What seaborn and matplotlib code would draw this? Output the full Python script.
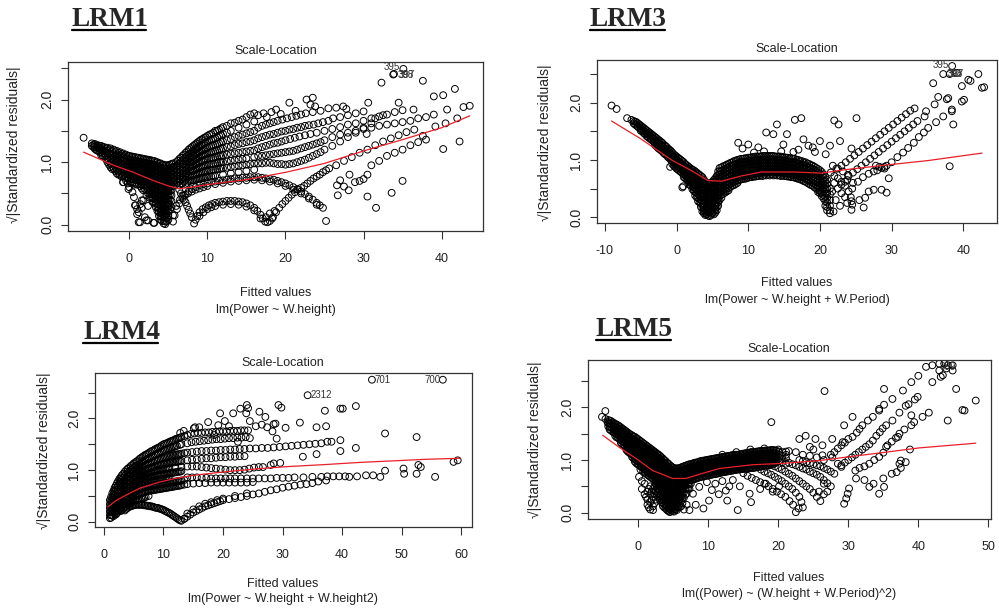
import matplotlib
matplotlib.use("Agg")
import matplotlib.pyplot as plt
import seaborn as sns
from matplotlib import font_manager
from matplotlib.lines import Line2D


# ---- data read off the four R "Scale-Location" diagnostic plots ----
# dense parts are kept as columns: (fitted value, [sqrt|std resid| values])
# the *_cols_b lists are the in-between columns of the same dense clouds

lrm1_cols = [
    (-4.8, [1.3, 1.26]),
    (-4.4, [1.29, 1.25, 1.21]),
    (-4.0, [1.27, 1.23, 1.18]),
    (-3.6, [1.26, 1.21, 1.16, 1.11]),
    (-3.2, [1.24, 1.19, 1.14, 1.09]),
    (-2.8, [1.23, 1.18, 1.12, 1.06, 1.0]),
    (-2.4, [1.22, 1.16, 1.1, 1.04, 0.98, 0.92]),
    (-2.0, [1.2, 1.14, 1.08, 1.02, 0.96, 0.9]),
    (-1.6, [1.18, 1.12, 1.06, 1.0, 0.94, 0.88, 0.82]),
    (-1.2, [1.16, 1.1, 1.04, 0.98, 0.92, 0.86, 0.8]),
    (-0.8, [1.14, 1.08, 1.02, 0.96, 0.9, 0.84, 0.78, 0.68]),
    (-0.4, [1.12, 1.06, 1.0, 0.94, 0.88, 0.82, 0.76, 0.7]),
    (0.0, [1.1, 1.04, 0.98, 0.92, 0.86, 0.8, 0.74, 0.6]),
    (0.4, [1.09, 1.03, 0.97, 0.91, 0.85, 0.79, 0.73, 0.67, 0.52]),
    (0.8, [1.08, 1.02, 0.96, 0.9, 0.84, 0.78, 0.72, 0.66, 0.31]),
    (1.2, [1.07, 1.01, 0.95, 0.89, 0.83, 0.77, 0.71, 0.65, 0.2, 0.04]),
    (1.6, [1.06, 1.0, 0.94, 0.88, 0.82, 0.76, 0.7, 0.64, 0.58, 0.39, 0.27]),
    (2.0, [1.05, 0.99, 0.93, 0.87, 0.81, 0.75, 0.69, 0.63, 0.57, 0.12]),
    (2.4, [1.04, 0.98, 0.92, 0.86, 0.8, 0.74, 0.68, 0.62, 0.56, 0.5, 0.3, 0.07]),
    (2.8, [1.03, 0.97, 0.91, 0.85, 0.79, 0.73, 0.67, 0.61, 0.55, 0.49, 0.43]),
    (3.2, [1.02, 0.96, 0.9, 0.84, 0.78, 0.72, 0.66, 0.6, 0.54, 0.48, 0.42, 0.36, 0.03]),
    (3.6, [1.0, 0.94, 0.88, 0.82, 0.76, 0.7, 0.64, 0.58, 0.52, 0.46, 0.4, 0.34, 0.28, 0.22]),
    (4.0, [0.98, 0.92, 0.86, 0.8, 0.74, 0.68, 0.62, 0.56, 0.5, 0.44, 0.38, 0.32, 0.26, 0.2, 0.14, 0.08]),
    (4.4, [0.96, 0.9, 0.84, 0.78, 0.72, 0.66, 0.6, 0.54, 0.48, 0.42, 0.36, 0.3, 0.24, 0.18, 0.12, 0.06, 0.02]),
    (4.8, [0.95, 0.89, 0.83, 0.77, 0.71, 0.65, 0.59, 0.53, 0.47, 0.41, 0.35, 0.29, 0.23, 0.17, 0.11, 0.05]),
    (5.2, [0.96, 0.9, 0.84, 0.78, 0.72, 0.66, 0.6, 0.54, 0.48, 0.4, 0.32, 0.24]),
    (5.6, [0.98, 0.92, 0.86, 0.8, 0.74, 0.68, 0.62, 0.15, 0.05]),
    (6.0, [1.0, 0.93, 0.86, 0.79, 0.72, 0.65]),
    (6.4, [1.05, 0.98, 0.91, 0.84, 0.77, 0.7, 0.63]),
    (6.8, [1.1, 1.03, 0.96, 0.89, 0.82, 0.75, 0.66]),
    (7.2, [1.15, 1.08, 1.01, 0.94, 0.87, 0.8, 0.72, 0.65]),
    (7.6, [1.2, 1.13, 1.06, 0.99, 0.92, 0.85, 0.78, 0.7]),
    (8.0, [1.24, 1.16, 1.08, 1.0, 0.93, 0.86, 0.78, 0.71]),
    (8.4, [1.28, 1.2, 1.12, 1.04, 0.96, 0.88, 0.8, 0.72]),
    (8.8, [1.32, 1.24, 1.15, 1.07, 0.99, 0.9, 0.82, 0.73]),
    (9.2, [1.36, 1.27, 1.18, 1.1, 1.02, 0.93, 0.84, 0.74]),
    (9.6, [1.39, 1.3, 1.2, 1.12, 1.03, 0.94, 0.85, 0.75]),
    (10.0, [1.42, 1.33, 1.23, 1.14, 1.05, 0.96, 0.86, 0.76]),
    (10.5, [1.45, 1.36, 1.26, 1.16, 1.07, 0.97, 0.87, 0.77]),
    (11.0, [1.5, 1.38, 1.28, 1.18, 1.08, 0.98, 0.88, 0.78]),
    (11.5, [1.52, 1.42, 1.3, 1.2, 1.1, 1.0, 0.89]),
    (12.0, [1.56, 1.45, 1.33, 1.22, 1.11, 1.0, 0.9, 0.8]),
    (12.5, [1.58, 1.47, 1.35, 1.24, 1.12, 1.01, 0.91]),
    (13.0, [1.62, 1.5, 1.37, 1.25, 1.13, 1.02, 0.92, 0.82]),
    (13.5, [1.63, 1.4, 1.27, 1.14, 1.03, 0.93]),
    (14.0, [1.66, 1.55, 1.42, 1.29, 1.15, 1.04, 0.94, 0.84]),
    (14.5, [1.68, 1.44, 1.3, 1.16, 1.05, 0.95]),
    (15.0, [1.72, 1.6, 1.46, 1.32, 1.17, 1.06, 0.96, 0.86]),
    (15.5, [1.76, 1.48, 1.33, 1.18, 0.97]),
    (16.0, [1.78, 1.65, 1.5, 1.35, 1.19, 1.08, 0.98, 0.88]),
]

lrm1_cols_b = [
    (-4.6, [1.28, 1.24]),
    (-4.2, [1.27, 1.23, 1.19]),
    (-3.8, [1.26, 1.21, 1.16]),
    (-3.4, [1.24, 1.19, 1.14, 1.1]),
    (-3.0, [1.22, 1.16, 1.11, 1.05]),
    (-2.6, [1.2, 1.14, 1.08, 1.02, 0.96]),
    (-2.2, [1.18, 1.12, 1.06, 1.0, 0.94, 0.89]),
    (-1.8, [1.17, 1.11, 1.05, 0.99, 0.93, 0.86]),
    (-1.4, [1.15, 1.09, 1.03, 0.97, 0.91, 0.85, 0.8]),
    (-1.0, [1.13, 1.07, 1.01, 0.95, 0.89, 0.83, 0.77]),
    (-0.6, [1.11, 1.05, 0.99, 0.93, 0.87, 0.81, 0.75]),
    (-0.2, [1.1, 1.04, 0.98, 0.92, 0.86, 0.8, 0.74, 0.66]),
    (0.2, [1.09, 1.03, 0.97, 0.91, 0.85, 0.79, 0.73, 0.68]),
    (0.6, [1.08, 1.02, 0.96, 0.9, 0.84, 0.78, 0.72, 0.64, 0.44]),
    (1.0, [1.07, 1.01, 0.95, 0.89, 0.83, 0.77, 0.71, 0.64, 0.25]),
    (1.4, [1.06, 1.0, 0.94, 0.88, 0.82, 0.76, 0.7, 0.62, 0.33]),
    (1.8, [1.05, 0.99, 0.93, 0.87, 0.81, 0.75, 0.69, 0.63, 0.55]),
    (2.2, [1.04, 0.98, 0.92, 0.86, 0.8, 0.74, 0.68, 0.62, 0.55, 0.47]),
    (2.6, [1.03, 0.97, 0.91, 0.85, 0.79, 0.73, 0.67, 0.61, 0.55, 0.49, 0.43]),
    (3.0, [1.02, 0.96, 0.9, 0.84, 0.78, 0.72, 0.66, 0.6, 0.54, 0.48, 0.42, 0.36]),
    (3.4, [1.0, 0.94, 0.88, 0.82, 0.76, 0.7, 0.64, 0.58, 0.52, 0.46, 0.4, 0.34, 0.28]),
    (3.8, [0.98, 0.92, 0.86, 0.8, 0.74, 0.68, 0.62, 0.56, 0.5, 0.44, 0.38, 0.32, 0.26, 0.2, 0.14]),
    (4.2, [0.96, 0.9, 0.84, 0.78, 0.72, 0.66, 0.6, 0.54, 0.48, 0.42, 0.36, 0.3, 0.24, 0.18, 0.12, 0.06]),
    (4.6, [0.95, 0.89, 0.83, 0.77, 0.71, 0.65, 0.59, 0.53, 0.47, 0.41, 0.35, 0.29, 0.23, 0.17, 0.11, 0.05, 0.01]),
    (5.0, [0.95, 0.89, 0.83, 0.77, 0.71, 0.65, 0.59, 0.53, 0.47, 0.41, 0.35, 0.29, 0.22, 0.15, 0.08]),
    (5.4, [0.97, 0.91, 0.85, 0.79, 0.73, 0.67, 0.61, 0.55, 0.47, 0.38, 0.28]),
    (6.2, [1.02, 0.95, 0.88, 0.81, 0.74, 0.67]),
    (6.6, [1.07, 1.0, 0.93, 0.86, 0.79, 0.72, 0.65]),
    (7.0, [1.12, 1.05, 0.98, 0.91, 0.84, 0.77, 0.69]),
    (7.4, [1.17, 1.1, 1.03, 0.96, 0.89, 0.82, 0.75, 0.67]),
    (7.8, [1.22, 1.14, 1.07, 1.0, 0.93, 0.86, 0.78, 0.7]),
    (8.2, [1.26, 1.18, 1.1, 1.02, 0.94, 0.87, 0.79, 0.71]),
    (8.6, [1.3, 1.22, 1.13, 1.05, 0.97, 0.89, 0.81, 0.72]),
    (9.0, [1.34, 1.25, 1.16, 1.08, 1.0, 0.91, 0.83, 0.74]),
    (9.4, [1.37, 1.28, 1.19, 1.11, 1.02, 0.93, 0.84, 0.75]),
    (9.8, [1.4, 1.31, 1.22, 1.13, 1.04, 0.95, 0.86, 0.76]),
    (10.25, [1.44, 1.34, 1.25, 1.15, 1.06, 0.96, 0.87, 0.77]),
    (10.75, [1.47, 1.37, 1.27, 1.17, 1.07, 0.97, 0.88, 0.78]),
    (11.25, [1.5, 1.4, 1.29, 1.19, 1.09, 0.99, 0.89]),
    (11.75, [1.54, 1.43, 1.32, 1.21, 1.1, 1.0, 0.9]),
]

lrm1_points = [
    (-5.85, 1.39), (-0.77, 0.68), (-0.1, 0.57), (0.73, 0.31), (1.37, 0.04),
    (2.2, 0.07), (3.1, 0.03), (1.8, 0.39), (1.0, 0.17),
    (6.4, 0.56), (6.8, 0.46), (7.2, 0.36), (7.6, 0.24), (8.0, 0.12), (8.3, 0.02),
    (6.6, 0.5), (7.0, 0.4), (7.4, 0.3), (7.8, 0.18),
    (5.8, 0.15), (6.1, 0.25), (6.4, 0.34), (6.8, 0.42), (7.2, 0.48), (7.6, 0.53),
    (8.0, 0.57), (8.5, 0.6), (9.0, 0.63), (9.5, 0.65), (10, 0.66), (10.5, 0.68),
    (11, 0.69), (11.5, 0.7), (12, 0.71), (12.5, 0.72), (13, 0.73), (13.5, 0.74),
    (14, 0.74), (14.5, 0.75), (15, 0.75), (15.5, 0.76), (16, 0.76), (16.5, 0.76),
    (17, 0.75), (17.5, 0.74), (18, 0.73), (18.5, 0.72), (19, 0.7), (19.5, 0.68),
    (20, 0.66), (20.5, 0.63), (21, 0.6), (21.5, 0.57), (22, 0.53), (22.5, 0.49),
    (23, 0.45), (23.5, 0.4), (24, 0.35), (24.4, 0.31), (24.8, 0.27), (25.2, 0.06),
    (6.0, 0.3), (6.5, 0.4), (7.0, 0.47), (7.5, 0.5), (8.0, 0.53), (8.5, 0.56),
    (9.0, 0.58), (9.5, 0.6), (10, 0.62), (11, 0.65), (12, 0.67), (13, 0.69),
    (14, 0.7), (15, 0.71), (16, 0.72), (17, 0.71), (18, 0.69), (19, 0.66),
    (20, 0.62), (21, 0.56), (22, 0.5), (23, 0.42), (24, 0.32),
    (8.5, 0.08), (8.7, 0.14), (9.0, 0.2), (9.4, 0.25), (9.8, 0.28), (10.2, 0.31),
    (10.6, 0.33), (11, 0.35), (11.5, 0.36), (12, 0.37), (12.5, 0.38), (13, 0.38),
    (13.5, 0.38), (14, 0.37), (14.5, 0.36), (15, 0.34), (15.5, 0.31), (16, 0.27),
    (16.4, 0.22), (16.8, 0.16), (17.1, 0.1), (17.4, 0.05), (17.7, 0.04), (18, 0.06),
    (9.0, 0.14), (9.5, 0.2), (10, 0.25), (10.5, 0.28), (11, 0.3), (12, 0.32),
    (13, 0.33), (14, 0.32), (15, 0.29), (16, 0.23), (16.8, 0.1), (17.5, 0.12),
    (18.0, 0.18), (18.3, 0.1), (18.6, 0.22),
    (18.4, 0.12), (18.8, 0.2), (19.2, 0.27), (19.6, 0.33), (20, 0.38), (20.4, 0.43),
    (20.8, 0.48), (21.2, 0.52), (21.6, 0.56), (22, 0.59), (22.4, 0.62), (22.8, 0.66),
    (23.2, 0.7), (23.6, 0.74), (24, 0.77), (24.4, 0.8), (24.8, 0.84), (25.2, 0.87),
    (25.6, 0.9),
    (16.5, 1.75), (17.2, 1.78), (17.6, 1.72), (18.2, 1.8), (18.8, 1.84), (19.4, 1.77),
    (20.5, 1.95), (21.3, 1.82), (22.7, 2.0), (23.2, 1.92), (23.5, 2.03), (23.8, 1.89),
    (16.5, 1.55), (17, 1.58), (17.5, 1.6), (18, 1.62), (18.5, 1.64), (19, 1.66),
    (19.6, 1.68), (20.2, 1.7), (20.8, 1.72), (21.4, 1.74), (22, 1.76), (22.6, 1.78),
    (23.5, 1.8), (24.5, 1.82), (25.5, 1.86), (26.5, 1.87), (27.4, 1.89), (27.8, 1.85),
    (16.5, 1.38), (17, 1.4), (17.5, 1.42), (18, 1.44), (18.5, 1.45), (19, 1.47),
    (19.5, 1.49), (20, 1.5), (20.5, 1.52), (21, 1.53), (21.5, 1.55), (22, 1.56),
    (22.5, 1.58), (23, 1.59), (23.6, 1.6), (24.2, 1.62), (24.8, 1.64), (25.5, 1.66),
    (26.1, 1.7), (27, 1.72), (28, 1.75), (29, 1.78), (30, 1.81), (30.6, 1.95),
    (16.5, 1.22), (17, 1.24), (17.5, 1.26), (18, 1.28), (18.5, 1.3), (19, 1.31),
    (19.5, 1.33), (20, 1.35), (20.6, 1.37), (21.2, 1.39), (21.8, 1.41), (22.5, 1.43),
    (23.2, 1.45), (24, 1.47), (25, 1.5), (26, 1.53), (27, 1.56), (28, 1.6),
    (29, 1.62), (30, 1.66), (31, 1.7), (32, 1.73), (33, 1.76), (34, 1.8),
    (35, 1.83), (36.4, 1.84),
    (16.5, 1.1), (17, 1.1), (17.5, 1.11), (18, 1.12), (18.5, 1.13), (19, 1.14),
    (19.5, 1.15), (20, 1.16), (20.5, 1.17), (21, 1.18), (21.5, 1.2), (22, 1.22),
    (22.5, 1.24), (23, 1.26), (23.5, 1.28), (24, 1.3), (24.5, 1.32), (25, 1.35),
    (26, 1.4), (27, 1.44), (28, 1.47), (29, 1.5), (30, 1.53), (31, 1.55),
    (32, 1.58), (33, 1.6), (34, 1.62), (35, 1.64), (36, 1.66), (37, 1.7),
    (38, 1.72), (39, 1.76), (40.7, 1.84),
    (16.5, 0.98), (17, 0.98), (17.5, 0.99), (18, 0.99), (18.5, 0.98), (19, 0.97),
    (19.5, 0.97), (20, 0.96), (20.5, 0.97), (21, 0.98), (21.5, 1.0), (22, 1.02),
    (22.5, 1.04), (23, 1.07), (23.5, 1.1), (24, 1.13), (24.5, 1.16), (25, 1.2),
    (26, 1.26), (27, 1.33), (28, 1.4), (29, 1.47), (30, 1.55), (31, 1.62),
    (31.5, 1.7), (32.5, 1.75),
    (26.5, 0.95), (27.5, 1.02), (28.5, 1.08), (29.5, 1.15), (30.5, 1.2), (31.5, 1.27),
    (32.5, 1.33), (33.5, 1.38), (34.5, 1.43), (35.5, 1.48), (36.5, 1.52),
    (37.6, 1.42), (39.2, 1.57), (40.5, 1.62), (42, 1.7), (43.6, 1.9), (42.8, 1.88),
    (26.6, 0.63), (26.7, 0.47), (27.5, 0.61), (28.1, 0.55), (28.9, 0.68), (28.2, 0.8),
    (27, 0.71), (29.5, 0.7), (30, 0.73), (30.5, 0.8), (30.5, 0.45), (31.6, 0.27),
    (33.6, 0.51), (35, 0.7), (31, 0.95), (32, 1.02), (33, 1.1), (34, 1.15),
    (35, 1.2), (36, 1.27), (37, 1.32), (38, 1.36), (30.4, 1.45),
    (32.3, 2.27), (37.6, 2.3), (33.8, 2.4), (33.9, 2.41), (35.1, 2.49), (39, 2.05),
    (40.2, 2.07), (41.7, 2.17), (40.2, 1.21), (42.3, 1.33), (34.5, 1.95),
]

lrm1_smooth_x = [-5.85, -2.0, 0.47, 3.0, 5.0, 6.4, 8.0, 10.0, 12.4, 15.0, 20.1, 25.0, 30.3, 35.0, 40.0, 43.6]
lrm1_smooth_y = [1.16, 0.95, 0.84, 0.71, 0.62, 0.575, 0.6, 0.64, 0.68, 0.72, 0.84, 0.98, 1.19, 1.36, 1.55, 1.74]

lrm3_cols = [
    (-6.0, [1.68, 1.64]),
    (-5.6, [1.66, 1.6]),
    (-5.2, [1.62, 1.56]),
    (-4.8, [1.58, 1.53, 1.5]),
    (-4.4, [1.54, 1.49, 1.45]),
    (-4.0, [1.5, 1.45, 1.4]),
    (-3.6, [1.46, 1.41, 1.36]),
    (-3.2, [1.42, 1.37, 1.32]),
    (-2.8, [1.38, 1.33, 1.28, 1.24]),
    (-2.4, [1.34, 1.29, 1.24, 1.19]),
    (-2.0, [1.3, 1.25, 1.2, 1.15]),
    (-1.6, [1.25, 1.2, 1.15, 1.1]),
    (-1.2, [1.2, 1.15, 1.1, 1.05]),
    (-0.8, [1.16, 1.1, 1.05, 1.0]),
    (-0.4, [1.1, 1.05, 1.0, 0.95, 0.9]),
    (0.0, [1.06, 1.0, 0.95, 0.9, 0.85]),
    (0.4, [1.02, 0.96, 0.91, 0.86, 0.81]),
    (0.8, [0.98, 0.92, 0.87, 0.82, 0.77, 0.52]),
    (1.2, [0.93, 0.88, 0.83, 0.78, 0.73, 0.68]),
    (1.6, [0.89, 0.84, 0.79, 0.74, 0.69, 0.64]),
    (2.0, [0.85, 0.8, 0.75, 0.7, 0.65, 0.6, 0.55]),
    (2.4, [0.82, 0.76, 0.7, 0.64, 0.58, 0.52, 0.46]),
    (2.8, [0.78, 0.72, 0.66, 0.6, 0.54, 0.48, 0.42, 0.35]),
    (3.2, [0.74, 0.68, 0.62, 0.56, 0.5, 0.44, 0.38, 0.32, 0.26]),
    (3.6, [0.7, 0.64, 0.58, 0.52, 0.46, 0.4, 0.34, 0.28, 0.22, 0.16, 0.1]),
    (4.0, [0.62, 0.56, 0.5, 0.44, 0.38, 0.32, 0.26, 0.2, 0.14, 0.08, 0.04]),
    (4.4, [0.58, 0.5, 0.44, 0.38, 0.32, 0.26, 0.2, 0.14, 0.08, 0.03]),
    (4.8, [0.6, 0.52, 0.46, 0.4, 0.34, 0.28, 0.22, 0.16, 0.1, 0.04]),
    (5.2, [0.65, 0.58, 0.52, 0.46, 0.4, 0.34, 0.28, 0.22, 0.16, 0.1, 0.05]),
    (5.6, [0.72, 0.66, 0.6, 0.54, 0.48, 0.42, 0.36, 0.3, 0.24, 0.18, 0.12]),
    (6.0, [0.86, 0.8, 0.74, 0.68, 0.62, 0.56, 0.5, 0.44, 0.38, 0.3]),
    (6.5, [0.89, 0.83, 0.77, 0.71, 0.65, 0.59, 0.53, 0.47, 0.41]),
    (7.0, [0.92, 0.86, 0.8, 0.74, 0.68, 0.62, 0.56, 0.5, 0.45]),
    (7.5, [0.95, 0.89, 0.83, 0.77, 0.71, 0.65, 0.59, 0.53]),
    (8.0, [0.98, 0.92, 0.86, 0.8, 0.74, 0.68, 0.62, 0.56]),
    (8.5, [1.0, 0.94, 0.88, 0.82, 0.76, 0.7, 0.64, 0.6]),
    (9.0, [1.02, 0.96, 0.9, 0.84, 0.78, 0.72, 0.66]),
    (9.5, [1.03, 0.97, 0.91, 0.85, 0.79, 0.73, 0.67]),
    (10.0, [1.04, 0.98, 0.92, 0.86, 0.8, 0.74, 0.69]),
    (10.5, [1.05, 0.99, 0.93, 0.87, 0.81, 0.75, 0.7]),
    (11.0, [1.06, 1.0, 0.94, 0.88, 0.82, 0.76, 0.71]),
    (11.5, [1.06, 1.0, 0.94, 0.88, 0.82, 0.77, 0.72]),
    (12.0, [1.07, 1.01, 0.95, 0.89, 0.83, 0.78, 0.72]),
    (12.5, [1.07, 1.01, 0.95, 0.89, 0.83, 0.78, 0.73]),
    (13.0, [1.07, 1.01, 0.95, 0.89, 0.84, 0.79, 0.73]),
    (13.5, [1.07, 1.01, 0.95, 0.89, 0.84, 0.79, 0.73]),
    (14.0, [1.06, 1.0, 0.94, 0.88, 0.83, 0.78, 0.73]),
    (14.5, [1.06, 1.0, 0.94, 0.88, 0.83, 0.78, 0.72]),
    (15.0, [1.05, 0.99, 0.93, 0.87, 0.82, 0.77, 0.72]),
    (15.5, [1.04, 0.98, 0.92, 0.86, 0.81, 0.76, 0.71]),
    (16.0, [1.03, 0.97, 0.91, 0.85, 0.8, 0.75, 0.7]),
    (16.5, [1.02, 0.96, 0.9, 0.84, 0.79, 0.74, 0.69]),
    (17.0, [1.0, 0.94, 0.88, 0.82, 0.77, 0.72, 0.67]),
    (17.5, [0.98, 0.92, 0.86, 0.8, 0.75, 0.7, 0.65]),
    (18.0, [0.96, 0.9, 0.84, 0.78, 0.73, 0.68, 0.62]),
    (18.5, [0.93, 0.87, 0.81, 0.75, 0.7, 0.64, 0.58]),
    (19.0, [0.9, 0.84, 0.78, 0.72, 0.66, 0.6, 0.55]),
    (19.5, [0.86, 0.8, 0.74, 0.68, 0.62, 0.56, 0.5]),
    (20.0, [0.82, 0.76, 0.7, 0.64, 0.58, 0.52, 0.46, 0.42]),
    (20.5, [0.75, 0.69, 0.63, 0.57, 0.51, 0.45, 0.39, 0.33]),
    (21.0, [0.65, 0.58, 0.5, 0.42, 0.34, 0.26, 0.18, 0.12]),
    (21.4, [0.5, 0.4, 0.3, 0.2, 0.12, 0.07]),
]

lrm3_cols_b = [
    (-5.8, [1.67, 1.62]),
    (-5.4, [1.64, 1.58]),
    (-5.0, [1.6, 1.55, 1.51]),
    (-4.6, [1.56, 1.51, 1.47]),
    (-4.2, [1.52, 1.47, 1.42]),
    (-3.8, [1.48, 1.43, 1.38]),
    (-3.4, [1.44, 1.39, 1.34]),
    (-3.0, [1.4, 1.35, 1.3, 1.26]),
    (-2.6, [1.36, 1.31, 1.26, 1.21]),
    (-2.2, [1.32, 1.27, 1.22, 1.17]),
    (-1.8, [1.27, 1.22, 1.17, 1.12]),
    (-1.4, [1.23, 1.18, 1.13, 1.08]),
    (-1.0, [1.18, 1.13, 1.08, 1.03]),
    (-0.6, [1.13, 1.08, 1.03, 0.98, 0.93]),
    (-0.2, [1.08, 1.03, 0.98, 0.93, 0.88]),
    (0.2, [1.04, 0.98, 0.93, 0.88, 0.83]),
    (0.6, [1.0, 0.94, 0.89, 0.84, 0.79]),
    (1.0, [0.96, 0.9, 0.85, 0.8, 0.75, 0.7]),
    (1.4, [0.91, 0.86, 0.81, 0.76, 0.71, 0.66]),
    (1.8, [0.87, 0.82, 0.77, 0.72, 0.67, 0.62, 0.57]),
    (2.2, [0.83, 0.78, 0.73, 0.67, 0.61, 0.55, 0.49]),
    (2.6, [0.8, 0.74, 0.68, 0.62, 0.56, 0.5, 0.44, 0.38]),
    (3.0, [0.76, 0.7, 0.64, 0.58, 0.52, 0.46, 0.4, 0.34, 0.28]),
    (3.4, [0.72, 0.66, 0.6, 0.54, 0.48, 0.42, 0.36, 0.3, 0.24, 0.18]),
    (3.8, [0.66, 0.6, 0.54, 0.48, 0.42, 0.36, 0.3, 0.24, 0.18, 0.12, 0.07]),
    (4.2, [0.6, 0.53, 0.47, 0.41, 0.35, 0.29, 0.23, 0.17, 0.11, 0.05]),
    (4.6, [0.58, 0.5, 0.44, 0.38, 0.32, 0.26, 0.2, 0.14, 0.08, 0.02]),
    (5.0, [0.62, 0.55, 0.49, 0.43, 0.37, 0.31, 0.25, 0.19, 0.13, 0.07]),
    (5.4, [0.68, 0.62, 0.56, 0.5, 0.44, 0.38, 0.32, 0.26, 0.2, 0.14, 0.08]),
    (5.8, [0.8, 0.74, 0.68, 0.62, 0.56, 0.5, 0.44, 0.38, 0.32, 0.26, 0.2]),
    (6.25, [0.87, 0.81, 0.75, 0.69, 0.63, 0.57, 0.51, 0.45, 0.39, 0.34]),
    (6.75, [0.9, 0.84, 0.78, 0.72, 0.66, 0.6, 0.54, 0.48, 0.43]),
    (7.25, [0.93, 0.87, 0.81, 0.75, 0.69, 0.63, 0.57, 0.51, 0.47]),
    (7.75, [0.96, 0.9, 0.84, 0.78, 0.72, 0.66, 0.6, 0.55]),
    (8.25, [0.99, 0.93, 0.87, 0.81, 0.75, 0.69, 0.63, 0.58]),
    (8.75, [1.01, 0.95, 0.89, 0.83, 0.77, 0.71, 0.65]),
    (9.25, [1.02, 0.96, 0.9, 0.84, 0.78, 0.72, 0.67]),
    (9.75, [1.03, 0.97, 0.91, 0.85, 0.79, 0.73, 0.68]),
    (10.25, [1.04, 0.98, 0.92, 0.86, 0.8, 0.74, 0.7]),
    (10.75, [1.05, 0.99, 0.93, 0.87, 0.81, 0.76, 0.71]),
    (11.25, [1.06, 1.0, 0.94, 0.88, 0.82, 0.77, 0.72]),
    (11.75, [1.06, 1.0, 0.94, 0.88, 0.83, 0.78, 0.73]),
    (12.25, [1.07, 1.01, 0.95, 0.89, 0.84, 0.79, 0.74]),
    (12.75, [1.07, 1.01, 0.95, 0.89, 0.84, 0.79, 0.74]),
    (13.25, [1.07, 1.01, 0.95, 0.9, 0.85, 0.8, 0.75]),
    (13.75, [1.06, 1.0, 0.94, 0.89, 0.84, 0.79, 0.74]),
    (14.25, [1.06, 1.0, 0.94, 0.89, 0.84, 0.79, 0.74]),
    (14.75, [1.05, 0.99, 0.93, 0.88, 0.83, 0.78, 0.73]),
    (15.25, [1.04, 0.98, 0.92, 0.87, 0.82, 0.77, 0.72]),
    (15.75, [1.03, 0.97, 0.91, 0.86, 0.81, 0.76, 0.71]),
    (16.25, [1.02, 0.96, 0.9, 0.85, 0.8, 0.75, 0.7]),
    (16.75, [1.0, 0.94, 0.88, 0.83, 0.78, 0.73, 0.68]),
    (17.25, [0.98, 0.92, 0.86, 0.81, 0.76, 0.71, 0.66]),
    (17.75, [0.96, 0.9, 0.84, 0.79, 0.74, 0.69, 0.63]),
    (18.25, [0.94, 0.88, 0.82, 0.77, 0.72, 0.66, 0.6]),
    (18.75, [0.91, 0.85, 0.79, 0.74, 0.68, 0.62, 0.56]),
    (19.25, [0.88, 0.82, 0.76, 0.7, 0.64, 0.58, 0.52]),
    (19.75, [0.84, 0.78, 0.72, 0.66, 0.6, 0.54, 0.48, 0.44]),
    (20.25, [0.79, 0.73, 0.67, 0.61, 0.55, 0.49, 0.43, 0.37]),
    (20.75, [0.7, 0.63, 0.56, 0.49, 0.42, 0.35, 0.28, 0.2]),
]

lrm3_points = [
    (-9.07, 1.95), (-8.37, 1.89), (-6.9, 1.73), (-6.3, 1.7), (0.92, 0.54), (-0.9, 0.88),
    (21.5, 0.78), (22, 0.72), (22.5, 0.68), (23, 0.62), (23.5, 0.55), (24, 0.45),
    (24.3, 0.35), (24.5, 0.22), (24.4, 0.13), (22, 0.6), (22.5, 0.5), (23, 0.42),
    (23.5, 0.35), (23.8, 0.25), (22.3, 0.85), (21.8, 0.9), (23.2, 0.8), (21.7, 0.45),
    (22.2, 0.3), (22.8, 0.2), (21.9, 0.1), (23.8, 0.65), (24.6, 0.6),
    (8.6, 1.3), (10, 1.27), (14, 1.62), (16.5, 1.7), (17.4, 1.73), (14.9, 1.27),
    (17.7, 1.36), (20.0, 1.33), (22, 1.69), (22.6, 1.62), (25.1, 1.73), (22.8, 1.33),
    (24.4, 1.2), (19.3, 1.14), (12.5, 1.48), (13.5, 1.45), (15.4, 1.45), (9.2, 1.2),
    (11.4, 1.22), (18.4, 1.25), (16.3, 1.14), (20.8, 1.1), (21.4, 1.25), (14.6, 1.15),
    (10.8, 1.13), (19.0, 1.22), (17.0, 1.18), (12.2, 1.15),
    (22.5, 0.85), (23, 0.9), (23.6, 0.96), (24.2, 1.02), (24.8, 1.08), (25.4, 1.14),
    (26, 1.2), (26.6, 1.26), (27.2, 1.32), (27.8, 1.38), (28.4, 1.44), (29, 1.5),
    (29.6, 1.56), (30.2, 1.62), (30.8, 1.68), (31.4, 1.74), (32, 1.8), (32.6, 1.86),
    (33.2, 1.9),
    (23.5, 0.62), (24, 0.72), (24.6, 0.78), (25.2, 0.84), (25.8, 0.9), (26.4, 0.96),
    (27, 1.02), (27.6, 1.08), (28.2, 1.14), (28.8, 1.2), (29.4, 1.26), (30, 1.32),
    (30.6, 1.38), (31.2, 1.44), (31.8, 1.5), (32.4, 1.56), (33, 1.62), (33.6, 1.68),
    (34.6, 1.76), (36, 1.97), (37.9, 2.08),
    (24.5, 0.5), (25.3, 0.62), (26, 0.7), (26.8, 0.76), (27.5, 0.8), (28, 0.82),
    (28.6, 0.86), (29, 0.88), (29.3, 0.9), (30, 0.96), (30.8, 1.05), (31.6, 1.13),
    (32.3, 1.21), (33.1, 1.3), (33.8, 1.4), (34.5, 1.48), (35.1, 1.56), (36.2, 1.66),
    (37.2, 1.76), (38.4, 1.85), (39.8, 2.02), (27.8, 0.9), (28.3, 0.88), (29.0, 0.85),
    (35.8, 2.34), (36.5, 2.1), (39.8, 2.29), (40.7, 2.4), (42.1, 2.5), (42.6, 2.26),
    (42.9, 2.27), (39.1, 2.52), (37.2, 2.5), (38.1, 2.5), (38.44, 2.64), (38.4, 1.88),
    (37.7, 2.06), (38.6, 1.62), (38.1, 0.89), (40.1, 2.05), (41.0, 2.38), (34.8, 1.85),
    (28.6, 0.48), (29.3, 0.43), (26.3, 0.34), (26.1, 0.17), (24.4, 0.28), (27.5, 0.48),
    (23, 0.57), (23.9, 0.74), (25.5, 0.3), (26.8, 0.45), (29.6, 0.68),
]

lrm3_smooth_x = [-9.07, -5.0, -0.7, 2.0, 4.4, 6.3, 9.0, 11.85, 16.5, 20.2, 23.5, 29.1, 35.1, 42.6]
lrm3_smooth_y = [1.68, 1.37, 1.0, 0.82, 0.64, 0.63, 0.72, 0.79, 0.79, 0.77, 0.83, 0.91, 0.99, 1.12]

lrm4_cols = [
    (1.0, [0.42, 0.34, 0.27, 0.2, 0.13, 0.07]),
    (1.4, [0.55, 0.47, 0.4, 0.33, 0.26, 0.19, 0.12]),
    (1.8, [0.66, 0.58, 0.5, 0.43, 0.36, 0.29, 0.22, 0.15]),
    (2.2, [0.75, 0.67, 0.59, 0.51, 0.44, 0.37, 0.3, 0.23, 0.17]),
    (2.6, [0.83, 0.75, 0.67, 0.59, 0.51, 0.44, 0.37, 0.3, 0.23]),
    (3.0, [0.9, 0.82, 0.74, 0.66, 0.58, 0.5, 0.43, 0.36, 0.29, 0.22]),
    (3.5, [0.97, 0.89, 0.81, 0.73, 0.65, 0.57, 0.49, 0.42, 0.35, 0.28, 0.22]),
    (4.0, [1.03, 0.95, 0.87, 0.79, 0.71, 0.63, 0.55, 0.47, 0.4, 0.33, 0.27]),
    (4.5, [1.08, 1.0, 0.92, 0.84, 0.76, 0.68, 0.6, 0.52, 0.44, 0.36, 0.3]),
    (5.0, [1.13, 1.05, 0.97, 0.89, 0.81, 0.73, 0.65, 0.57, 0.49, 0.4, 0.32]),
    (5.5, [1.17, 1.09, 1.01, 0.93, 0.85, 0.77, 0.69, 0.6, 0.51, 0.42, 0.33]),
    (6.0, [1.22, 1.12, 1.04, 0.96, 0.88, 0.8, 0.72, 0.63, 0.54, 0.44, 0.33]),
    (6.5, [1.26, 1.16, 1.07, 0.98, 0.9, 0.82, 0.74, 0.65, 0.56, 0.46, 0.33]),
    (7.0, [1.3, 1.2, 1.1, 1.01, 0.92, 0.84, 0.76, 0.67, 0.58, 0.48, 0.32]),
    (7.5, [1.33, 1.23, 1.13, 1.03, 0.94, 0.86, 0.78, 0.69, 0.6, 0.5, 0.31]),
    (8.0, [1.37, 1.26, 1.15, 1.05, 0.96, 0.88, 0.79, 0.7, 0.61, 0.3]),
    (8.5, [1.4, 1.29, 1.18, 1.07, 0.98, 0.89, 0.8, 0.71, 0.62, 0.28]),
    (9.0, [1.43, 1.32, 1.2, 1.09, 1.0, 0.9, 0.81, 0.72, 0.63, 0.27]),
    (9.5, [1.46, 1.35, 1.22, 1.1, 1.01, 0.91, 0.82, 0.73, 0.64, 0.25]),
    (10.0, [1.5, 1.38, 1.24, 1.12, 1.02, 0.92, 0.83, 0.74, 0.65, 0.23]),
    (10.5, [1.52, 1.4, 1.26, 1.13, 1.03, 0.93, 0.84, 0.75, 0.66, 0.2]),
    (11.0, [1.55, 1.42, 1.28, 1.14, 1.04, 0.94, 0.85, 0.76, 0.67, 0.17]),
    (11.5, [1.57, 1.44, 1.29, 1.15, 0.95, 0.77, 0.68, 0.13]),
    (12.0, [1.6, 1.46, 1.3, 1.16, 1.05, 0.96, 0.78, 0.69, 0.09]),
    (12.5, [1.62, 1.31, 1.17, 0.97, 0.79, 0.7, 0.05]),
    (13.0, [1.64, 1.5, 1.32, 1.18, 1.06, 0.98, 0.8, 0.71, 0.02]),
    (13.5, [1.66, 1.33, 0.81, 0.72, 0.06]),
]

lrm4_cols_b = [
    (1.2, [0.48, 0.41, 0.34, 0.27, 0.2, 0.13, 0.08]),
    (1.6, [0.6, 0.53, 0.46, 0.39, 0.32, 0.25, 0.18, 0.11]),
    (2.0, [0.7, 0.62, 0.55, 0.48, 0.41, 0.34, 0.27, 0.2, 0.14]),
    (2.4, [0.79, 0.71, 0.63, 0.55, 0.48, 0.41, 0.34, 0.27, 0.2]),
    (2.8, [0.86, 0.78, 0.7, 0.62, 0.55, 0.48, 0.41, 0.34, 0.27, 0.21]),
    (3.25, [0.93, 0.85, 0.77, 0.69, 0.61, 0.54, 0.47, 0.4, 0.33, 0.26]),
    (3.75, [1.0, 0.92, 0.84, 0.76, 0.68, 0.6, 0.52, 0.45, 0.38, 0.31, 0.25]),
    (4.25, [1.05, 0.97, 0.89, 0.81, 0.73, 0.65, 0.57, 0.5, 0.42, 0.35, 0.29]),
    (4.75, [1.1, 1.02, 0.94, 0.86, 0.78, 0.7, 0.62, 0.54, 0.46, 0.38, 0.31]),
    (5.25, [1.15, 1.07, 0.99, 0.91, 0.83, 0.75, 0.67, 0.58, 0.5, 0.41, 0.33]),
    (5.75, [1.19, 1.1, 1.02, 0.94, 0.86, 0.78, 0.7, 0.61, 0.52, 0.43, 0.33]),
    (6.25, [1.24, 1.14, 1.05, 0.97, 0.89, 0.81, 0.73, 0.64, 0.55, 0.45, 0.33]),
    (6.75, [1.28, 1.18, 1.08, 0.99, 0.91, 0.83, 0.75, 0.66, 0.57, 0.47, 0.32]),
    (7.25, [1.31, 1.21, 1.11, 1.02, 0.93, 0.85, 0.77, 0.68, 0.59, 0.31]),
    (7.75, [1.35, 1.24, 1.14, 1.04, 0.95, 0.87, 0.78, 0.69, 0.6, 0.3]),
    (8.25, [1.38, 1.27, 1.16, 1.06, 0.97, 0.88, 0.79, 0.7, 0.61, 0.29]),
    (8.75, [1.41, 1.3, 1.19, 1.08, 0.99, 0.89, 0.8, 0.71, 0.62, 0.27]),
    (9.25, [1.44, 1.33, 1.21, 1.09, 1.0, 0.9, 0.81, 0.72, 0.63, 0.26]),
    (9.75, [1.48, 1.36, 1.23, 1.11, 1.01, 0.91, 0.82, 0.73, 0.64, 0.24]),
    (10.25, [1.51, 1.39, 1.25, 1.12, 1.02, 0.92, 0.83, 0.74, 0.65, 0.21]),
    (10.75, [1.53, 1.41, 1.27, 1.13, 1.03, 0.93, 0.84, 0.75, 0.66, 0.18]),
    (11.25, [1.56, 1.43, 1.28, 1.14, 0.94, 0.76, 0.67, 0.15]),
    (11.75, [1.58, 1.45, 1.29, 1.15, 0.95, 0.77, 0.68, 0.11]),
    (12.25, [1.61, 1.47, 1.3, 1.16, 0.96, 0.78, 0.69, 0.07]),
    (12.75, [1.63, 1.49, 1.31, 1.17, 0.97, 0.79, 0.7, 0.03]),
]

lrm4_points = [
    (14, 1.68), (14.6, 1.7), (15.2, 1.71), (15.8, 1.72), (16.4, 1.72), (17, 1.73),
    (17.6, 1.73), (18.2, 1.74), (18.8, 1.74), (19.4, 1.75), (20, 1.75), (20.6, 1.75),
    (21.2, 1.76), (21.8, 1.76), (22.4, 1.76), (23, 1.77), (23.6, 1.77), (24.2, 1.77),
    (14, 1.52), (14.7, 1.54), (15.4, 1.55), (16.1, 1.56), (16.8, 1.57), (17.5, 1.58),
    (18.2, 1.59), (18.9, 1.6), (19.6, 1.6), (20.3, 1.61), (21, 1.62), (21.7, 1.62),
    (22.4, 1.63), (23.1, 1.63), (23.8, 1.64), (24.5, 1.62),
    (14, 1.34), (14.8, 1.35), (15.6, 1.36), (16.4, 1.37), (17.2, 1.37), (18, 1.38),
    (18.8, 1.38), (19.6, 1.39), (20.4, 1.39), (21.2, 1.4), (22, 1.4), (22.8, 1.41),
    (23.6, 1.41), (24.5, 1.42), (25.5, 1.42), (26.5, 1.43), (27.5, 1.43), (28.5, 1.44),
    (29.5, 1.45), (30.5, 1.46), (31.5, 1.47), (32.5, 1.48), (33.5, 1.49), (34.5, 1.5),
    (35.5, 1.51), (36.5, 1.52), (37.5, 1.55), (38.2, 1.55), (39.7, 1.58),
    (14, 1.19), (14.8, 1.2), (15.6, 1.21), (16.4, 1.22), (17.2, 1.23), (18, 1.23),
    (18.8, 1.24), (19.6, 1.25), (20.4, 1.25), (21.2, 1.26), (22, 1.26), (22.8, 1.27),
    (23.6, 1.27),
    (14, 1.07), (14.8, 1.07), (15.6, 1.07), (16.4, 1.06), (17.2, 1.05), (18, 1.04),
    (18.8, 1.03), (19.6, 1.02), (20.4, 1.01), (21.2, 1.0), (22, 1.0), (22.8, 1.0),
    (23.6, 1.01), (24.4, 1.03), (25.2, 1.05), (26, 1.06), (26.7, 1.06), (28, 1.1),
    (28.5, 1.13), (29.6, 1.14),
    (14, 0.86), (14.8, 0.86), (15.6, 0.86), (16.4, 0.85), (17.2, 0.85), (18, 0.84),
    (18.8, 0.84), (19.6, 0.84), (20.4, 0.84), (21.2, 0.84), (22, 0.84), (23, 0.84),
    (24, 0.84), (25, 0.84), (26, 0.84), (27, 0.84), (28, 0.84), (29, 0.85),
    (30, 0.85), (31, 0.85), (32, 0.86), (33.5, 0.86), (35, 0.87), (36.5, 0.87),
    (37.5, 0.88), (38.5, 0.88), (39.5, 0.88), (40.5, 0.88), (41.2, 0.87), (42.5, 0.88),
    (44, 0.9), (45.2, 0.9), (46.4, 0.87), (47.2, 0.99), (50.3, 1.03), (50.4, 0.93),
    (52.5, 0.93), (52.8, 1.1), (53.2, 1.06), (55.6, 0.87),
    (14, 0.73), (15, 0.74), (16, 0.75), (17, 0.75), (18, 0.76), (19, 0.76),
    (20, 0.76), (21, 0.76), (22, 0.76), (23, 0.76), (24, 0.76), (25, 0.77),
    (13.5, 0.06), (14, 0.1), (14.5, 0.14), (15, 0.18), (15.5, 0.21), (16, 0.24),
    (16.5, 0.27), (17, 0.3), (17.5, 0.32), (18, 0.34), (18.5, 0.36), (19, 0.38),
    (19.5, 0.4), (20, 0.42), (21, 0.44), (22, 0.46), (23, 0.48), (24, 0.5),
    (25, 0.53), (26, 0.55), (27, 0.58), (28, 0.61), (29, 0.63), (30, 0.66),
    (31, 0.68), (32, 0.7), (33, 0.72), (34, 0.73), (35, 0.75), (36, 0.78),
    (37.3, 0.8),
    (14, 0.16), (15, 0.24), (16, 0.3), (17, 0.35), (18, 0.38), (19, 0.42),
    (20, 0.45), (22, 0.5), (24, 0.55),
    (15.1, 1.81), (15.3, 1.83), (13.4, 1.76), (12.8, 1.72), (17.5, 1.93), (19.2, 1.87),
    (19.5, 2.1), (20.3, 1.95), (21.7, 2.1), (22.9, 2.19), (24, 2.26), (23.9, 2.1),
    (24.2, 2.2), (26.1, 2.13), (27.1, 2.03), (25.5, 1.85), (26.5, 1.88), (27.4, 1.83),
    (28.5, 1.89), (28.8, 1.9), (29, 1.61), (29.3, 2.26), (29.8, 2.21), (30.5, 1.82),
    (32.9, 1.92), (35.7, 1.83), (37.3, 1.85), (37.1, 2.15), (39.7, 2.19), (40.1, 2.19),
    (42.3, 2.24), (34.2, 2.45), (45.0, 2.75), (56.9, 2.75), (47.2, 1.71), (52.5, 1.64),
    (39.7, 1.37), (42.3, 1.43), (33.4, 1.26), (35.7, 1.31), (58.7, 1.16), (59.4, 1.19),
    (21.0, 1.85), (24.5, 1.95), (28.3, 1.75), (16.0, 1.83), (18.5, 1.68), (22.5, 1.55),
]

lrm4_smooth_x = [0.67, 2.0, 3.75, 6.0, 9.35, 12.0, 15.0, 20.5, 26.2, 31.0, 37.4, 43.0, 48.6, 54.0, 59.8]
lrm4_smooth_y = [0.29, 0.41, 0.52, 0.65, 0.77, 0.84, 0.9, 0.97, 1.03, 1.07, 1.11, 1.15, 1.18, 1.21, 1.23]

lrm5_cols = [
    (-4.3, [1.76, 1.7, 1.64]),
    (-3.9, [1.74, 1.68, 1.62, 1.56]),
    (-3.5, [1.7, 1.64, 1.58, 1.52]),
    (-3.1, [1.67, 1.61, 1.55, 1.49, 1.43]),
    (-2.7, [1.64, 1.58, 1.52, 1.46, 1.4]),
    (-2.3, [1.6, 1.54, 1.48, 1.42, 1.36, 1.3]),
    (-1.9, [1.56, 1.5, 1.44, 1.38, 1.32, 1.26]),
    (-1.5, [1.52, 1.46, 1.4, 1.34, 1.28, 1.22, 1.16]),
    (-1.1, [1.48, 1.42, 1.36, 1.3, 1.24, 1.18, 1.12]),
    (-0.7, [1.45, 1.39, 1.33, 1.27, 1.21, 1.15, 1.09, 1.03]),
    (-0.3, [1.42, 1.36, 1.3, 1.24, 1.18, 1.12, 1.06, 1.0, 0.94]),
    (0.1, [1.38, 1.32, 1.26, 1.2, 1.14, 1.08, 1.02, 0.96, 0.9, 0.68]),
    (0.5, [1.34, 1.28, 1.22, 1.16, 1.1, 1.04, 0.98, 0.92, 0.86, 0.6, 0.45]),
    (0.9, [1.3, 1.24, 1.18, 1.12, 1.06, 1.0, 0.94, 0.88, 0.82, 0.76, 0.55, 0.35]),
    (1.3, [1.26, 1.2, 1.14, 1.08, 1.02, 0.96, 0.9, 0.84, 0.78, 0.72, 0.4, 0.25, 0.15]),
    (1.7, [1.22, 1.16, 1.1, 1.04, 0.98, 0.92, 0.86, 0.8, 0.74, 0.68, 0.5, 0.35, 0.2, 0.06]),
    (2.1, [1.18, 1.12, 1.06, 1.0, 0.94, 0.88, 0.82, 0.76, 0.7, 0.64, 0.45, 0.3, 0.12, 0.05]),
    (2.5, [1.14, 1.08, 1.02, 0.96, 0.9, 0.84, 0.78, 0.72, 0.66, 0.6, 0.54, 0.4, 0.25]),
    (2.9, [1.1, 1.04, 0.98, 0.92, 0.86, 0.8, 0.74, 0.68, 0.62, 0.56, 0.5, 0.44, 0.38, 0.3]),
    (3.3, [1.05, 0.99, 0.93, 0.87, 0.81, 0.75, 0.69, 0.63, 0.57, 0.51, 0.45, 0.39, 0.33, 0.27, 0.2]),
    (3.7, [1.0, 0.94, 0.88, 0.82, 0.76, 0.7, 0.64, 0.58, 0.52, 0.46, 0.4, 0.34, 0.28, 0.22, 0.16, 0.1]),
    (4.1, [0.95, 0.89, 0.83, 0.77, 0.71, 0.65, 0.59, 0.53, 0.47, 0.41, 0.35, 0.29, 0.23, 0.17, 0.11, 0.05]),
    (4.5, [0.9, 0.84, 0.78, 0.72, 0.66, 0.6, 0.54, 0.48, 0.42, 0.36, 0.3, 0.24, 0.18, 0.12, 0.06, 0.01]),
    (4.9, [0.86, 0.8, 0.74, 0.68, 0.62, 0.56, 0.5, 0.44, 0.38, 0.32, 0.26, 0.2, 0.14, 0.08, 0.03]),
    (5.3, [0.84, 0.78, 0.72, 0.66, 0.6, 0.54, 0.48, 0.42, 0.36, 0.3, 0.24, 0.18, 0.12, 0.06]),
    (5.7, [0.84, 0.78, 0.72, 0.66, 0.6, 0.54, 0.48, 0.42, 0.36, 0.3, 0.24, 0.18, 0.1]),
    (6.1, [0.86, 0.8, 0.74, 0.68, 0.62, 0.56, 0.5, 0.44, 0.38, 0.3, 0.22, 0.12]),
    (6.5, [0.88, 0.82, 0.76, 0.7, 0.64, 0.58, 0.52, 0.46, 0.38, 0.28, 0.06]),
    (6.9, [0.9, 0.84, 0.78, 0.72, 0.66, 0.6, 0.54, 0.46, 0.36, 0.15]),
    (7.3, [0.92, 0.86, 0.8, 0.74, 0.68, 0.62, 0.55, 0.45, 0.05]),
    (7.7, [0.93, 0.87, 0.81, 0.75, 0.69, 0.62]),
    (8.1, [0.95, 0.89, 0.83, 0.77, 0.71, 0.64]),
    (8.5, [0.96, 0.9, 0.84, 0.78, 0.72, 0.66]),
    (8.9, [0.98, 0.92, 0.86, 0.8, 0.74, 0.68]),
    (9.3, [0.99, 0.93, 0.87, 0.81, 0.75, 0.69]),
    (9.7, [1.0, 0.94, 0.88, 0.82, 0.76, 0.7]),
    (10.1, [1.01, 0.95, 0.89, 0.83, 0.77, 0.71]),
    (10.5, [1.02, 0.96, 0.9, 0.84, 0.78, 0.72]),
    (10.9, [1.03, 0.97, 0.91, 0.85, 0.79, 0.73]),
    (11.3, [1.04, 0.98, 0.92, 0.86, 0.8, 0.74]),
    (11.7, [1.05, 0.99, 0.93, 0.87, 0.81, 0.76]),
    (12.1, [1.06, 1.0, 0.94, 0.88, 0.82, 0.77]),
    (12.5, [1.07, 1.01, 0.95, 0.89, 0.83, 0.78]),
    (12.9, [1.08, 1.02, 0.96, 0.9, 0.84, 0.79]),
    (13.3, [1.09, 1.03, 0.97, 0.91, 0.85, 0.8]),
    (13.7, [1.1, 1.04, 0.98, 0.92, 0.86, 0.81]),
    (14.1, [1.1, 1.04, 0.98, 0.92, 0.86, 0.82]),
    (14.5, [1.11, 1.05, 0.99, 0.93, 0.87, 0.82]),
    (14.9, [1.12, 1.06, 1.0, 0.94, 0.88, 0.83]),
    (15.3, [1.13, 1.07, 1.01, 0.95, 0.89, 0.84]),
    (15.7, [1.14, 1.08, 1.02, 0.96, 0.9, 0.84]),
    (16.1, [1.15, 1.09, 1.03, 0.97, 0.91, 0.85]),
    (16.5, [1.15, 1.09, 1.03, 0.97, 0.91, 0.85]),
    (16.9, [1.16, 1.1, 1.04, 0.98, 0.92, 0.86]),
    (17.3, [1.17, 1.11, 1.05, 0.99, 0.93, 0.87]),
    (17.7, [1.17, 1.11, 1.05, 0.99, 0.93, 0.88]),
    (18.1, [1.18, 1.12, 1.06, 1.0, 0.94, 0.89]),
    (18.5, [1.18, 1.12, 1.06, 1.0, 0.94, 0.9]),
    (18.9, [1.19, 1.13, 1.07, 1.01, 0.95, 0.91]),
    (19.3, [1.19, 1.13, 1.07, 1.01, 0.96, 0.92]),
    (19.7, [1.18, 1.12, 1.06, 1.0, 0.95]),
    (20.1, [1.16, 1.1, 1.04, 0.98]),
    (20.6, [1.15, 1.08, 1.02, 0.96]),
    (21.1, [1.16, 1.1, 1.03, 0.93]),
]

lrm5_cols_b = [
    (-4.1, [1.75, 1.69, 1.63, 1.58]),
    (-3.7, [1.72, 1.66, 1.6, 1.54]),
    (-3.3, [1.69, 1.63, 1.57, 1.51, 1.46]),
    (-2.9, [1.66, 1.6, 1.54, 1.48, 1.42]),
    (-2.5, [1.62, 1.56, 1.5, 1.44, 1.38, 1.33]),
    (-2.1, [1.58, 1.52, 1.46, 1.4, 1.34, 1.28]),
    (-1.7, [1.54, 1.48, 1.42, 1.36, 1.3, 1.24, 1.19]),
    (-1.3, [1.5, 1.44, 1.38, 1.32, 1.26, 1.2, 1.14]),
    (-0.9, [1.47, 1.41, 1.35, 1.29, 1.23, 1.17, 1.11, 1.06]),
    (-0.5, [1.44, 1.38, 1.32, 1.26, 1.2, 1.14, 1.08, 1.02, 0.97]),
    (-0.1, [1.4, 1.34, 1.28, 1.22, 1.16, 1.1, 1.04, 0.98, 0.92]),
    (0.3, [1.36, 1.3, 1.24, 1.18, 1.12, 1.06, 1.0, 0.94, 0.88, 0.82]),
    (0.7, [1.32, 1.26, 1.2, 1.14, 1.08, 1.02, 0.96, 0.9, 0.84, 0.78]),
    (1.1, [1.28, 1.22, 1.16, 1.1, 1.04, 0.98, 0.92, 0.86, 0.8, 0.74, 0.3]),
    (1.5, [1.24, 1.18, 1.12, 1.06, 1.0, 0.94, 0.88, 0.82, 0.76, 0.7, 0.45, 0.1]),
    (1.9, [1.2, 1.14, 1.08, 1.02, 0.96, 0.9, 0.84, 0.78, 0.72, 0.66, 0.4, 0.25]),
    (2.3, [1.16, 1.1, 1.04, 0.98, 0.92, 0.86, 0.8, 0.74, 0.68, 0.62, 0.5, 0.35, 0.18]),
    (2.7, [1.12, 1.06, 1.0, 0.94, 0.88, 0.82, 0.76, 0.7, 0.64, 0.58, 0.52, 0.46, 0.34]),
    (3.1, [1.08, 1.02, 0.96, 0.9, 0.84, 0.78, 0.72, 0.66, 0.6, 0.54, 0.48, 0.42, 0.36, 0.3, 0.24]),
    (3.5, [1.03, 0.97, 0.91, 0.85, 0.79, 0.73, 0.67, 0.61, 0.55, 0.49, 0.43, 0.37, 0.31, 0.25, 0.19, 0.13]),
    (3.9, [0.98, 0.92, 0.86, 0.8, 0.74, 0.68, 0.62, 0.56, 0.5, 0.44, 0.38, 0.32, 0.26, 0.2, 0.14, 0.08]),
    (4.3, [0.93, 0.87, 0.81, 0.75, 0.69, 0.63, 0.57, 0.51, 0.45, 0.39, 0.33, 0.27, 0.21, 0.15, 0.09, 0.03]),
    (4.7, [0.88, 0.82, 0.76, 0.7, 0.64, 0.58, 0.52, 0.46, 0.4, 0.34, 0.28, 0.22, 0.16, 0.1, 0.04]),
    (5.1, [0.85, 0.79, 0.73, 0.67, 0.61, 0.55, 0.49, 0.43, 0.37, 0.31, 0.25, 0.19, 0.13, 0.07, 0.02]),
    (5.5, [0.84, 0.78, 0.72, 0.66, 0.6, 0.54, 0.48, 0.42, 0.36, 0.3, 0.24, 0.18, 0.12, 0.05]),
    (5.9, [0.85, 0.79, 0.73, 0.67, 0.61, 0.55, 0.49, 0.43, 0.37, 0.31, 0.25, 0.17, 0.1]),
    (6.3, [0.87, 0.81, 0.75, 0.69, 0.63, 0.57, 0.51, 0.45, 0.37, 0.28, 0.18]),
    (6.7, [0.89, 0.83, 0.77, 0.71, 0.65, 0.59, 0.52, 0.44, 0.34]),
    (7.1, [0.91, 0.85, 0.79, 0.73, 0.67, 0.61, 0.54, 0.46]),
    (7.5, [0.92, 0.86, 0.8, 0.74, 0.68, 0.62, 0.55]),
    (7.9, [0.94, 0.88, 0.82, 0.76, 0.7, 0.64]),
    (8.3, [0.95, 0.89, 0.83, 0.77, 0.71, 0.65]),
    (8.7, [0.97, 0.91, 0.85, 0.79, 0.73, 0.67]),
    (9.1, [0.98, 0.92, 0.86, 0.8, 0.74, 0.68]),
    (9.5, [0.99, 0.93, 0.87, 0.81, 0.75, 0.7]),
    (9.9, [1.0, 0.94, 0.88, 0.82, 0.76, 0.71]),
    (10.3, [1.01, 0.95, 0.89, 0.83, 0.77, 0.72]),
    (10.7, [1.02, 0.96, 0.9, 0.84, 0.78, 0.73]),
    (11.1, [1.03, 0.97, 0.91, 0.85, 0.79, 0.74]),
    (11.5, [1.04, 0.98, 0.92, 0.86, 0.8, 0.75]),
    (11.9, [1.05, 0.99, 0.93, 0.87, 0.81, 0.76]),
    (12.3, [1.06, 1.0, 0.94, 0.88, 0.82, 0.77]),
    (12.7, [1.07, 1.01, 0.95, 0.89, 0.83, 0.78]),
    (13.1, [1.08, 1.02, 0.96, 0.9, 0.84, 0.79]),
    (13.5, [1.09, 1.03, 0.97, 0.91, 0.85, 0.8]),
    (13.9, [1.1, 1.04, 0.98, 0.92, 0.86, 0.81]),
    (14.3, [1.1, 1.04, 0.98, 0.92, 0.86, 0.82]),
    (14.7, [1.11, 1.05, 0.99, 0.93, 0.87, 0.83]),
    (15.1, [1.12, 1.06, 1.0, 0.94, 0.88, 0.83]),
    (15.5, [1.13, 1.07, 1.01, 0.95, 0.89, 0.84]),
    (15.9, [1.14, 1.08, 1.02, 0.96, 0.9, 0.85]),
    (16.3, [1.15, 1.09, 1.03, 0.97, 0.91, 0.85]),
    (16.7, [1.15, 1.09, 1.03, 0.97, 0.91, 0.86]),
    (17.1, [1.16, 1.1, 1.04, 0.98, 0.92, 0.87]),
    (17.5, [1.17, 1.11, 1.05, 0.99, 0.93, 0.88]),
    (17.9, [1.17, 1.11, 1.05, 0.99, 0.93, 0.89]),
    (18.3, [1.18, 1.12, 1.06, 1.0, 0.94, 0.9]),
    (18.7, [1.18, 1.12, 1.06, 1.0, 0.94, 0.9]),
    (19.1, [1.19, 1.13, 1.07, 1.01, 0.95, 0.91]),
    (19.5, [1.18, 1.12, 1.06, 1.0, 0.95]),
]

lrm5_points = [
    (-5.19, 1.82), (-4.71, 1.93), (-4.7, 1.78), (-4.4, 1.72),
    (15, 0.75), (15.6, 0.7), (16.2, 0.66), (16.8, 0.62), (17.4, 0.58), (18, 0.55),
    (18.6, 0.5), (19.2, 0.45), (19.8, 0.4), (20.4, 0.35), (21, 0.3), (21.6, 0.22),
    (22.1, 0.15),
    (17.5, 0.82), (18, 0.78), (18.5, 0.75), (19, 0.72), (19.5, 0.68), (20, 0.64),
    (20.5, 0.6), (21, 0.55), (21.5, 0.5), (22, 0.45), (22.5, 0.38), (23, 0.3),
    (23.3, 0.2), (23.5, 0.1), (22.9, 0.08), (22.5, 0.01),
    (19.5, 0.88), (20, 0.85), (20.5, 0.82), (21, 0.78), (21.5, 0.74), (22, 0.7),
    (22.5, 0.65), (23, 0.6), (23.5, 0.55), (24, 0.5), (24.5, 0.45), (25, 0.38),
    (25.5, 0.3), (26, 0.22),
    (21.5, 0.95), (22, 0.92), (22.5, 0.9), (23, 0.87), (23.5, 0.84), (24, 0.82),
    (24.5, 0.78), (25, 0.75), (25.5, 0.72), (26, 0.68), (26.5, 0.62), (27, 0.56),
    (27.5, 0.5),
    (23, 1.0), (23.5, 0.98), (24, 0.96), (24.5, 0.94), (25, 0.92), (25.5, 0.9),
    (26, 0.88), (26.5, 0.85), (27, 0.82), (27.5, 0.78), (28, 0.74),
    (12.5, 0.42), (12.7, 0.23), (14.2, 0.05), (15.9, 0.36), (16.1, 0.2), (17.4, 0.45),
    (18.2, 0.55), (19.2, 0.4), (10.1, 0.23), (8.7, 0.49), (7.8, 0.36), (9.3, 0.08),
    (10.5, 0.43), (11, 0.55), (12, 0.6), (13.5, 0.62), (14.5, 0.5), (9.8, 0.58),
    (11.5, 0.35), (13, 0.5), (20.1, 0.5), (8.2, 0.15), (19, 1.72), (26.6, 2.31),
    (12, 1.1), (14, 1.15), (16, 1.2), (18, 1.22), (20, 1.2), (21.5, 1.17),
    (22.5, 1.15), (23.5, 1.1), (24.5, 1.08), (25.5, 1.05), (26.5, 1.0),
    (27.5, 1.1), (28, 1.15), (28.5, 1.22), (29, 1.28), (29.5, 1.33), (30, 1.4),
    (30.6, 1.44), (31.2, 1.52), (31.6, 1.59), (32, 1.66), (32.8, 1.75), (33.5, 1.82),
    (34.4, 1.94), (34.4, 1.97), (35.1, 2.05), (36.3, 2.16), (37.8, 2.32), (39, 2.48),
    (40, 2.6), (41.1, 2.77),
    (29, 0.9), (29.5, 0.95), (30, 1.0), (30.5, 1.05), (31, 1.1), (31.5, 1.15),
    (32, 1.2), (32.5, 1.25), (33, 1.3), (33.5, 1.37), (34, 1.46), (34.5, 1.53),
    (34.9, 1.6), (35.4, 1.66), (36.3, 1.75), (37.3, 1.9), (38.2, 2.03), (38.6, 2.06),
    (39.5, 2.15), (39.9, 2.2),
    (31, 0.8), (31.6, 0.85), (32.3, 0.88), (33, 0.93), (33.7, 1.0), (34.4, 1.06),
    (35, 1.14), (35.4, 1.25), (35.6, 1.28), (36.2, 1.35), (36.8, 1.42), (37.1, 1.44),
    (37.3, 1.5), (38, 1.58), (39, 1.66), (39.4, 1.72), (40.6, 1.82), (41.5, 1.9),
    (33, 0.49), (33.6, 0.55), (35, 0.65), (36.2, 0.74), (36.9, 0.77), (37.5, 0.85),
    (37.3, 0.93), (38.2, 0.96), (37.5, 0.99),
    (30.6, 1.82), (35.1, 2.35), (44.2, 1.75), (46.6, 1.94), (46.3, 1.95), (48.2, 2.13),
    (45.4, 2.35), (42, 2.48), (43.2, 2.58), (43.5, 2.61), (44, 2.74), (43, 2.7),
    (44.9, 2.7), (42, 2.8), (43, 2.83), (43.7, 2.83), (44.2, 2.8), (44.9, 2.8),
    (34.4, 0.36), (35.1, 0.49), (32.3, 0.62), (31.1, 0.65), (30.1, 0.46), (29.9, 0.36),
    (29.4, 0.17), (29.7, 0.27), (28.5, 0.93), (29, 0.87), (23, 1.4), (23.9, 1.46),
    (25.3, 1.4), (27.7, 1.4), (26.3, 1.28), (26.3, 1.09), (27.7, 1.05), (29.2, 1.34),
    (29.4, 1.66), (24.5, 1.25), (25, 1.2), (26.5, 0.35), (27, 0.4), (25.8, 0.4),
    (26.5, 0.55), (39, 1.85), (38.8, 1.2),
]

lrm5_smooth_x = [-5.09, -2.5, -0.33, 2.06, 4.9, 6.8, 9.0, 11.6, 16.3, 21.1, 25.9, 30.6, 35.4, 40.1, 48.2]
lrm5_smooth_y = [1.47, 1.22, 1.03, 0.8, 0.65, 0.65, 0.74, 0.84, 0.91, 0.94, 0.99, 1.07, 1.15, 1.23, 1.32]

Y_TICKS = [0.0, 0.5, 1.0, 1.5, 2.0, 2.5]
Y_TICK_LABELS = ["0.0", "", "1.0", "", "2.0", ""]


def expand(col_sets, points):
    xs, ys = [], []
    for cols in col_sets:
        for x, col in cols:
            for y in col:
                xs.append(x)
                ys.append(y)
    for x, y in points:
        xs.append(x)
        ys.append(y)
    return xs, ys


sns.set_style("white")
names = {f.name for f in font_manager.fontManager.ttflist}
if "Liberation Sans Narrow" in names:
    NARROW, NSIZE = "Liberation Sans Narrow", 11
else:
    NARROW, NSIZE = "Liberation Sans", 9
plt.rcParams["font.family"] = ["Liberation Sans", "DejaVu Sans"]

W, H = 999, 610
fig = plt.figure(figsize=(W / 100, H / 100), dpi=100)


def fx(px):
    return px / W


def fy(py):
    return 1 - py / H


def panel(box, col_sets, points, sx, sy, xlim, ylim, xticks):
    l, t, r, b = box
    ax = fig.add_axes([fx(l), fy(b), (r - l) / W, (b - t) / H])
    xs, ys = expand(col_sets, points)
    sns.scatterplot(x=xs, y=ys, ax=ax, marker="o", s=24, facecolors="none",
                    edgecolor="black", linewidth=0.7, legend=False)
    sns.lineplot(x=sx, y=sy, ax=ax, color="#e8202a", linewidth=0.9,
                 sort=False, estimator=None)
    ax.set_xlim(*xlim)
    ax.set_ylim(*ylim)
    ax.set_xticks(xticks)
    ax.set_xticklabels([str(v) for v in xticks], fontfamily=NARROW, fontsize=NSIZE, color="#222")
    ax.set_yticks(Y_TICKS)
    ax.set_yticklabels(Y_TICK_LABELS, rotation=90, va="center", fontsize=10, color="#222")
    ax.tick_params(axis="x", length=6, width=0.8, pad=10, color="#333", bottom=True)
    ax.tick_params(axis="y", length=4.8, width=0.8, pad=5, color="#333", left=True)
    for s in ax.spines.values():
        s.set_color("#333")
        s.set_linewidth(0.9)
    ax.set_xlabel("")
    ax.set_ylabel("")
    return ax


def heading(x0, x1, base, text):
    fig.text(fx(x0), fy(base), text, fontfamily="Liberation Serif", fontweight="bold",
             fontsize=19.5, ha="left", va="baseline")
    fig.add_artist(Line2D([fx(x0), fx(x1)], [fy(base + 4), fy(base + 4)],
                          transform=fig.transFigure, color="black", linewidth=1.6))


def captions(cx, ty, fitted_y, sub_y, sub, ylab_x, ylab_y):
    fig.text(fx(cx), fy(ty), "Scale-Location", fontfamily=NARROW, fontsize=NSIZE,
             ha="center", va="center", color="#222")
    fig.text(fx(cx), fy(fitted_y), "Fitted values", fontfamily=NARROW, fontsize=NSIZE,
             ha="center", va="center", color="#222")
    fig.text(fx(cx), fy(sub_y), sub, fontfamily=NARROW, fontsize=NSIZE,
             ha="center", va="center", color="#222")
    fig.text(fx(ylab_x), fy(ylab_y), "\u221a|Standardized residuals|", rotation=90,
             fontsize=10, ha="center", va="center", color="#222")


def tag(ax, x, y, s, side):
    off = 0.45 if side == "right" else -0.45
    ax.text(x + off, y, s, fontfamily=NARROW, fontsize=NSIZE - 2, color="#333",
            ha="left" if side == "right" else "right", va="center")


ax1 = panel((68, 62, 483, 231), [lrm1_cols, lrm1_cols_b], lrm1_points,
            lrm1_smooth_x, lrm1_smooth_y, (-7.85, 45.3), (-0.1, 2.6), [0, 10, 20, 30, 40])
tag(ax1, 35.1, 2.52, "395", "left")
tag(ax1, 33.9, 2.4, "398", "right")
tag(ax1, 34.0, 2.4, "397", "right")
heading(72, 146, 26, "LRM1")
captions(276, 51, 293, 310, "lm(Power ~ W.height)", 14, 145)

ax2 = panel((597, 60, 997, 223), [lrm3_cols, lrm3_cols_b], lrm3_points,
            lrm3_smooth_x, lrm3_smooth_y, (-11.1, 44.7), (-0.1, 2.745), [-10, 0, 10, 20, 30, 40])
tag(ax2, 38.44, 2.66, "395", "left")
tag(ax2, 37.2, 2.5, "398", "right")
tag(ax2, 37.4, 2.5, "397", "right")
heading(590, 665, 26, "LRM3")
captions(797, 49, 283, 300, "lm(Power ~ W.height + W.Period)", 545, 143)

ax3 = panel((95, 373, 472, 527), [lrm4_cols, lrm4_cols_b], lrm4_points,
            lrm4_smooth_x, lrm4_smooth_y, (-1.5, 61.8), (-0.1, 2.88), [0, 10, 20, 30, 40, 50, 60])
tag(ax3, 45.0, 2.75, "701", "right")
tag(ax3, 56.9, 2.75, "700", "left")
tag(ax3, 34.2, 2.45, "2312", "right")
heading(83, 158, 339, "LRM4")
captions(283, 363, 584, 599, "lm(Power ~ W.height + W.height2)", 44, 451)

ax4 = panel((588, 360, 991, 519), [lrm5_cols, lrm5_cols_b], lrm5_points,
            lrm5_smooth_x, lrm5_smooth_y, (-7.19, 50.38), (-0.12, 2.9), [0, 10, 20, 30, 40, 50])
tag(ax4, 42.6, 2.76, "399", "right")
heading(596, 671, 336, "LRM5")
captions(789, 349, 578, 594, "lm((Power) ~ (W.height + W.Period)^2)", 535, 440)

fig.savefig("out.png", dpi=100, facecolor="white")
